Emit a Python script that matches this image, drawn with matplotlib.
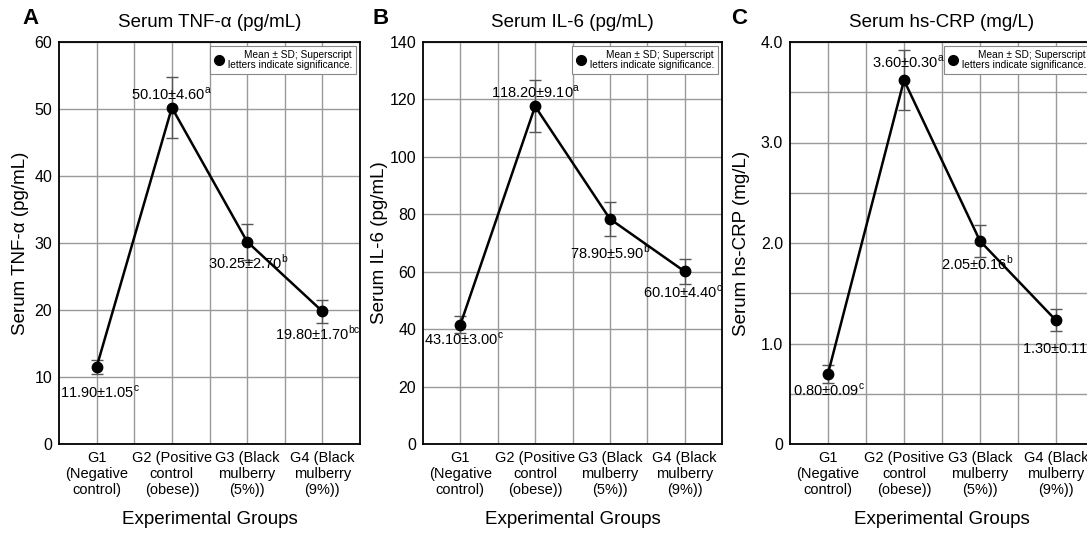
import matplotlib
matplotlib.use('Agg')
import matplotlib.pyplot as plt
from matplotlib.lines import Line2D

plt.rcParams['font.family'] = ['Liberation Sans', 'DejaVu Sans']
plt.rcParams['mathtext.fontset'] = 'custom'
plt.rcParams['mathtext.rm'] = 'Liberation Sans'

groups = ['G1\n(Negative\ncontrol)', 'G2 (Positive\ncontrol\n(obese))',
          'G3 (Black\nmulberry\n(5%))', 'G4 (Black\nmulberry\n(9%))']

# точки как нарисованы на рисунке + SD
tnf_mean = [11.5, 50.2, 30.2, 19.8]
tnf_sd = [1.05, 4.60, 2.70, 1.70]
tnf_text = ['11.90±1.05', '50.10±4.60', '30.25±2.70', '19.80±1.70']
tnf_sig = ['c', 'a', 'b', 'bc']

il6_mean = [41.6, 117.6, 78.4, 60.1]
il6_sd = [3.00, 9.10, 5.90, 4.40]
il6_text = ['43.10±3.00', '118.20±9.10', '78.90±5.90', '60.10±4.40']
il6_sig = ['c', 'a', 'b', 'c']

crp_mean = [0.70, 3.62, 2.02, 1.23]
crp_sd = [0.09, 0.30, 0.16, 0.11]
crp_text = ['0.80±0.09', '3.60±0.30', '2.05±0.16', '1.30±0.11']
crp_sig = ['c', 'a', 'b', 'c']

panels = [
    dict(letter='A', title='Serum TNF-α (pg/mL)', ylabel='Serum TNF-α (pg/mL)',
         mean=tnf_mean, sd=tnf_sd, text=tnf_text, sig=tnf_sig,
         ylim=60, major=[0, 10, 20, 30, 40, 50, 60], minor=[],
         ylabels=['0', '10', '20', '30', '40', '50', '60'],
         offs=[(3, -25), (0, 13), (1, -21), (-5, -22)],
         pos=[59, 301], lx=22, ylx=29),
    dict(letter='B', title='Serum IL-6 (pg/mL)', ylabel='Serum IL-6 (pg/mL)',
         mean=il6_mean, sd=il6_sd, text=il6_text, sig=il6_sig,
         ylim=140, major=[0, 20, 40, 60, 80, 100, 120, 140], minor=[],
         ylabels=['0', '20', '40', '60', '80', '100', '120', '140'],
         offs=[(4, -15), (0, 14), (0, -34), (-2, -21)],
         pos=[423, 299], lx=373, ylx=388),
    dict(letter='C', title='Serum hs-CRP (mg/L)', ylabel='Serum hs-CRP (mg/L)',
         mean=crp_mean, sd=crp_sd, text=crp_text, sig=crp_sig,
         ylim=4.0, major=[0, 1, 2, 3, 4], minor=[0.5, 1.5, 2.5, 3.5],
         ylabels=['0', '1.0', '2.0', '3.0', '4.0'],
         offs=[(1, -17), (4, 18), (-3, -22), (2, -28)],
         pos=[790, 304], lx=731, ylx=750),
]

W, H = 1087, 533
fig = plt.figure(figsize=(W / 100, H / 100), dpi=100)
fig.patch.set_facecolor('white')

x = [0, 1, 2, 3]
for p in panels:
    left, width = p['pos']
    ax = fig.add_axes([left / W, 89 / H, width / W, 402 / H])
    ax.errorbar(x, p['mean'], yerr=p['sd'], fmt='none', ecolor='#555555',
                elinewidth=1, capsize=4.5, capthick=1, zorder=3)
    ax.plot(x, p['mean'], color='black', lw=1.8, marker='o', ms=7.5, zorder=4)
    for i in range(4):
        lab = p['text'][i] + r'$^{\mathrm{' + p['sig'][i] + '}}$'
        ax.annotate(lab, (x[i], p['mean'][i]), xytext=p['offs'][i],
                    textcoords='offset pixels', ha='center', va='center',
                    fontsize=10.5, zorder=5)
    ax.set_xlim(-0.5, 3.5)
    ax.set_ylim(0, p['ylim'])
    ax.set_xticks(x)
    ax.set_xticklabels(groups, fontsize=10.5)
    ax.set_xticks([0.5, 1.5, 2.5], minor=True)
    ax.set_yticks(p['major'])
    ax.set_yticklabels(p['ylabels'], fontsize=11.5)
    ax.set_yticks(p['minor'], minor=True)
    ax.grid(True, which='both', color='#999999', lw=1)
    ax.set_axisbelow(True)
    ax.tick_params(which='both', length=0, pad=5)
    for s in ax.spines.values():
        s.set_linewidth(1.3)
        s.set_color('black')
    ax.set_title(p['title'], fontsize=13.5, pad=11)
    ax.set_xlabel('Experimental Groups', fontsize=13.5, labelpad=10)
    ax.set_ylabel(p['ylabel'], fontsize=13.5)
    ax.yaxis.set_label_coords((p['ylx'] - left) / width, 0.5)
    h = Line2D([], [], color='black', marker='o', ls='none', ms=7)
    leg = ax.legend([h], ['Mean ± SD; Superscript\nletters indicate significance.'],
                    loc='upper right', fontsize=7.3, fancybox=False,
                    edgecolor='#888888', framealpha=1, borderpad=0.45,
                    handletextpad=0.3, handlelength=1.0,
                    borderaxespad=0.35)
    leg.get_frame().set_linewidth(0.8)
    for t in leg.get_texts():
        t.set_multialignment('right')
        t.set_linespacing(0.95)
    fig.text(p['lx'] / W, 1 - 18 / H, p['letter'], fontsize=16,
             fontweight='bold', ha='left', va='center')

fig.savefig('out.png', dpi=100)
